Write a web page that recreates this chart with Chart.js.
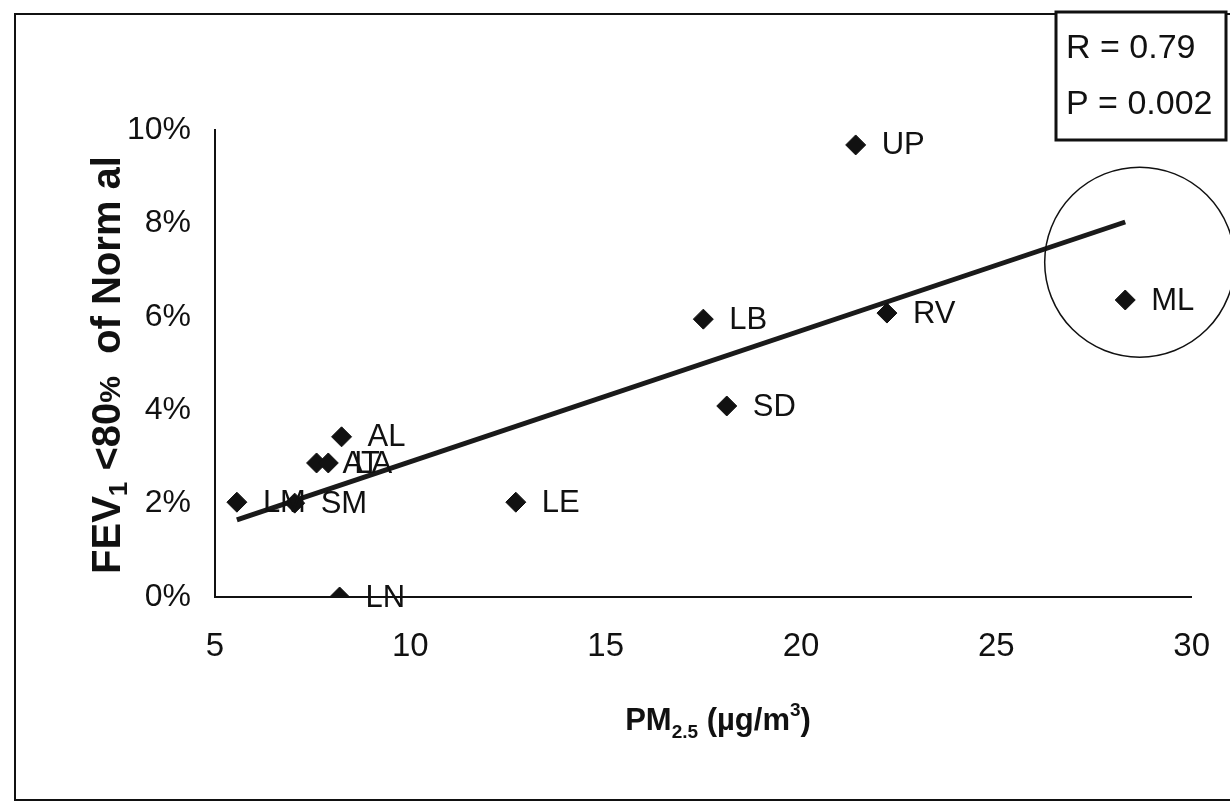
<!DOCTYPE html>
<html>
<head>
<meta charset="utf-8">
<script src="https://cdn.jsdelivr.net/npm/chart.js@4.4.0/dist/chart.umd.min.js"></script>
<style>
    html, body { margin: 0; padding: 0; background: #fff; }
    #wrap { width: 1230px; height: 802px; }
</style>
</head>
<body>
<div id="wrap"><canvas id="chart" width="1230" height="802"></canvas></div>
<script>
// ---- data ----
const sites = ['UP', 'ML', 'RV', 'LB', 'SD', 'LE', 'AL', 'AT', 'LA', 'LM', 'SM', 'LN'];
const pm25 = [21.4, 28.3, 22.2, 17.5, 18.1, 12.7, 8.24, 7.6, 7.9, 5.56, 7.04, 8.19];
const fevPct = [9.68, 6.36, 6.08, 5.95, 4.09, 2.03, 3.43, 2.87, 2.87, 2.03, 2.01, 0.0];
const trendX = [5.56, 28.3];
const trendY = [1.65, 8.03];
const xTicks = [5, 10, 15, 20, 25, 30];
const yTicks = [0, 2, 4, 6, 8, 10];
const statsLines = ['R = 0.79', 'P = 0.002'];
const circleCenter = { x: 28.67, y: 7.17 };

const FONT = '"Liberation Sans", Arial, sans-serif';

const overlay = {
    id: 'overlay',
    afterDraw(chart) {
        const ctx = chart.ctx;
        const xs = chart.scales.x;
        const ys = chart.scales.y;
        ctx.save();

        // outer frame
        ctx.strokeStyle = '#111';
        ctx.lineWidth = 2;
        ctx.strokeRect(15, 14, 1240, 786);

        // point labels
        ctx.fillStyle = '#111';
        ctx.font = '31px ' + FONT;
        ctx.textBaseline = 'middle';
        ctx.textAlign = 'left';
        sites.forEach((s, i) => {
            ctx.fillText(s, xs.getPixelForValue(pm25[i]) + 26, ys.getPixelForValue(fevPct[i]) + 1);
        });

        // circle around ML
        ctx.lineWidth = 1.5;
        ctx.beginPath();
        ctx.arc(xs.getPixelForValue(circleCenter.x), ys.getPixelForValue(circleCenter.y), 95, 0, Math.PI * 2);
        ctx.stroke();

        // stats box
        ctx.fillStyle = '#fff';
        ctx.fillRect(1056, 12, 170, 128);
        ctx.lineWidth = 3;
        ctx.strokeRect(1056, 12, 170, 128);
        ctx.fillStyle = '#111';
        ctx.font = '34px ' + FONT;
        ctx.textBaseline = 'alphabetic';
        ctx.fillText(statsLines[0], 1066, 58);
        ctx.fillText(statsLines[1], 1066, 114);

        // x axis title: PM2.5 (µg/m3)
        const parts = [
            { t: 'PM', f: 'bold 31px ', dy: 0 },
            { t: '2.5', f: 'bold 19px ', dy: 8 },
            { t: ' (µg/m', f: 'bold 31px ', dy: 0 },
            { t: '3', f: 'bold 19px ', dy: -14 },
            { t: ')', f: 'bold 31px ', dy: 0 }
        ];
        let total = 0;
        parts.forEach(p => { ctx.font = p.f + FONT; total += ctx.measureText(p.t).width; });
        let px = 718 - total / 2;
        parts.forEach(p => {
            ctx.font = p.f + FONT;
            ctx.fillText(p.t, px, 730 + p.dy);
            px += ctx.measureText(p.t).width;
        });

        // y axis title: FEV1 <80%  of Normal
        ctx.translate(106, 365);
        ctx.rotate(-Math.PI / 2);
        const yparts = [
            { t: 'FEV', f: 'bold 40px ', dy: 0 },
            { t: '1', f: 'bold 26px ', dy: 7 },
            { t: ' <80', f: 'bold 40px ', dy: 0 },
            { t: '%', f: 'bold 30px ', dy: 0 },
            { t: '  of Norm al', f: 'bold 40px ', dy: 0 }
        ];
        total = 0;
        yparts.forEach(p => { ctx.font = p.f + FONT; total += ctx.measureText(p.t).width; });
        px = -total / 2;
        yparts.forEach(p => {
            ctx.font = p.f + FONT;
            ctx.fillText(p.t, px, 14 + p.dy);
            px += ctx.measureText(p.t).width;
        });
        ctx.restore();
    }
};

new Chart(document.getElementById('chart'), {
    type: 'scatter',
    data: {
        datasets: [
            {
                label: 'FEV1',
                data: pm25.map((x, i) => ({ x: x, y: fevPct[i] })),
                pointStyle: 'rectRot',
                pointRadius: 10,
                backgroundColor: '#111',
                borderColor: '#111',
                borderWidth: 1
            },
            {
                label: 'trend',
                type: 'line',
                data: trendX.map((x, i) => ({ x: x, y: trendY[i] })),
                borderColor: '#1a1a1a',
                borderWidth: 5,
                pointRadius: 0,
                fill: false
            }
        ]
    },
    options: {
        responsive: false,
        animation: false,
        layout: { padding: { top: 130, right: 35, left: 0, bottom: 0 } },
        scales: {
            x: {
                type: 'linear',
                min: 5,
                max: 30,
                afterBuildTicks: (s) => { s.ticks = xTicks.map(v => ({ value: v })); },
                afterFit: (s) => { s.height = 205; },
                grid: { display: false, drawTicks: true, tickLength: 10, tickColor: '#111' },
                border: { color: '#111', width: 2 },
                ticks: { color: '#111', font: { family: FONT, size: 33 }, padding: 20 }
            },
            y: {
                min: 0,
                max: 10,
                afterBuildTicks: (s) => { s.ticks = yTicks.map(v => ({ value: v })); },
                afterFit: (s) => { s.width = 215; },
                grid: { display: false, drawTicks: true, tickLength: 10, tickColor: '#111' },
                border: { color: '#111', width: 2 },
                ticks: { color: '#111', font: { family: FONT, size: 32 }, padding: 14, callback: v => v + '%' }
            }
        },
        plugins: {
            legend: { display: false },
            tooltip: { enabled: false }
        }
    },
    plugins: [overlay]
});
</script>
</body>
</html>
